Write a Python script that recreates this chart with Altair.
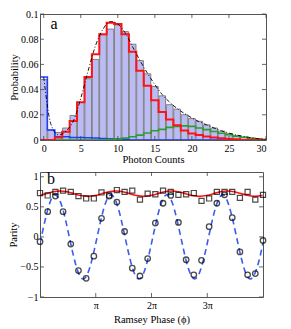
import altair as alt
import pandas as pd

# ---------------- panel a: photon count histogram ----------------
counts = list(range(31))
hist_prob = [0.048, 0.008, 0.006, 0.0095, 0.0195, 0.030, 0.0486, 0.064, 0.0835, 0.088,
             0.0913, 0.086, 0.076, 0.063, 0.0525, 0.0425, 0.035, 0.028, 0.0245, 0.020,
             0.017, 0.0148, 0.012, 0.0095, 0.007, 0.005, 0.0033, 0.0022, 0.0014, 0.0009, 0.0005]
fit_blue = [0.050, 0.008, 0.0025, 0.0025, 0.002, 0.002, 0.0018, 0.0015, 0.0012, 0.001,
            0.0008, 0.0005, 0, 0, 0, 0, 0, 0, 0, 0,
            0, 0, 0, 0, 0, 0, 0, 0, 0, 0, 0]
fit_green = [0, 0, 0, 0, 0, 0, 0, 0, 0, 0.0003,
             0.0008, 0.0015, 0.0026, 0.0039, 0.0055, 0.0073, 0.0084, 0.0100, 0.0108, 0.0112,
             0.0108, 0.0095, 0.0082, 0.0068, 0.0054, 0.0042, 0.0031, 0.0022, 0.0014, 0.0008, 0.0004]
fit_red = [0, 0, 0.002, 0.0066, 0.015, 0.030, 0.050, 0.068, 0.084, 0.093,
           0.092, 0.084, 0.070, 0.055, 0.043, 0.0315, 0.0223, 0.0163, 0.0118, 0.0075,
           0.0052, 0.0040, 0.0028, 0.0020, 0.0013, 0.0008, 0.0005, 0, 0, 0, 0]
fit_total = [0.050, 0.012, 0.004, 0.007, 0.015, 0.033, 0.055, 0.075, 0.088, 0.094,
             0.092, 0.085, 0.074, 0.063, 0.053, 0.044, 0.036, 0.030, 0.025, 0.021,
             0.0175, 0.0145, 0.012, 0.0095, 0.0073, 0.0055, 0.004, 0.0028, 0.0018, 0.001, 0.0005]
a_xticks = [0, 5, 10, 15, 20, 25, 30]
a_yticks = [0, 0.02, 0.04, 0.06, 0.08, 0.1]

# ---------------- panel b: parity vs Ramsey phase (units of pi) ----------------
phase_pi = [0, 0.138, 0.276, 0.414, 0.552, 0.690, 0.828, 0.966, 1.103, 1.241,
            1.379, 1.517, 1.655, 1.793, 1.931, 2.069, 2.207, 2.345, 2.483, 2.621,
            2.759, 2.897, 3.034, 3.172, 3.310, 3.448, 3.586, 3.724, 3.862, 4.0]
parity_circles = [-0.08, 0.42, 0.68, 0.42, -0.12, -0.56, -0.69, -0.32, 0.31, 0.68,
                  0.58, 0.09, -0.52, -0.65, -0.36, 0.23, 0.56, 0.69, 0.24, -0.38,
                  -0.63, -0.39, 0.17, 0.56, 0.70, 0.32, -0.25, -0.63, -0.61, -0.06]
parity_squares = [0.73, 0.69, 0.75, 0.77, 0.75, 0.68, 0.64, 0.64, 0.74, 0.69,
                  0.78, 0.75, 0.77, 0.62, 0.72, 0.71, 0.77, 0.75, 0.70, 0.71,
                  0.73, 0.60, 0.64, 0.75, 0.75, 0.75, 0.65, 0.75, 0.62, 0.70]
fit_dash_phase = [0, 0.025, 0.15, 0.275, 0.4, 0.525, 0.65, 0.775, 0.9, 1.025, 1.15,
                  1.275, 1.4, 1.525, 1.65, 1.775, 1.9, 2.025, 2.15, 2.275, 2.4,
                  2.525, 2.65, 2.775, 2.9, 3.025, 3.15, 3.275, 3.4, 3.525, 3.65,
                  3.775, 3.9, 4.0]
fit_dash_parity = [-0.10, 0, 0.49, 0.70, 0.49, 0, -0.49, -0.70, -0.49, 0, 0.49,
                   0.70, 0.49, 0, -0.49, -0.70, -0.49, 0, 0.49, 0.70, 0.49,
                   0, -0.49, -0.70, -0.49, 0, 0.49, 0.70, 0.49, 0, -0.49,
                   -0.70, -0.49, -0.10]
fit_solid_phase = [0, 0.11, 0.235, 0.36, 0.485, 0.61, 0.735, 0.86, 0.985, 1.11, 1.235,
                   1.36, 1.485, 1.61, 1.735, 1.86, 1.985, 2.11, 2.235, 2.36, 2.485,
                   2.61, 2.735, 2.86, 2.985, 3.11, 3.235, 3.36, 3.485, 3.61, 3.735,
                   3.86, 3.985, 4.0]
fit_solid_parity = [0.69, 0.72, 0.752, 0.765, 0.752, 0.72, 0.688, 0.675, 0.688, 0.72, 0.752,
                    0.765, 0.752, 0.72, 0.688, 0.675, 0.688, 0.72, 0.752, 0.765, 0.752,
                    0.72, 0.688, 0.675, 0.688, 0.72, 0.752, 0.765, 0.752, 0.72, 0.688,
                    0.675, 0.688, 0.69]
b_xticks = [1, 2, 3]
b_yticks = [-1, -0.5, 0, 0.5, 1]

SERIF = "Liberation Serif"
WA, HA = 226, 126
WB, HB = 223, 125
TICK = 4
tick_col = "#444444"

# shared axis definitions (identical on every layer so they merge cleanly)
ax_xa = alt.Axis(values=a_xticks, title="Photon Counts", ticks=False, domain=False, grid=False,
                 labelPadding=3, titlePadding=1, format="d", labelOverlap=False)
ax_ya = alt.Axis(values=a_yticks, title="Probability", ticks=False, domain=False, grid=False,
                 format="~g", labelPadding=2, titlePadding=1, labelOverlap=False)
ax_xb = alt.Axis(values=b_xticks, title="Ramsey Phase (\u03d5)", ticks=False, domain=False, grid=False,
                 labelExpr="datum.value == 1 ? '\u03c0' : datum.value + '\u03c0'",
                 labelPadding=3, titlePadding=4, labelOverlap=False)
ax_yb = alt.Axis(values=b_yticks, title="Parity", ticks=False, domain=False, grid=False,
                 format="~g", labelPadding=2, titlePadding=1, labelOverlap=False)

xsa = alt.Scale(domain=[-0.5, 30], nice=False, zero=False)
ysa = alt.Scale(domain=[0, 0.1], nice=False)
xs = alt.Scale(domain=[0, 4], nice=False, zero=False)
ys = alt.Scale(domain=[-1, 1.08], nice=False)


def XA(f="x"):
    return alt.X(f + ":Q", scale=xsa, axis=ax_xa)


def YA(f="p"):
    return alt.Y(f + ":Q", scale=ysa, axis=ax_ya)


def XB(f="phi"):
    return alt.X(f + ":Q", scale=xs, axis=ax_xb)


def YB(f):
    return alt.Y(f + ":Q", scale=ys, axis=ax_yb)


# ---------- panel a ----------
hist_df = pd.DataFrame({"k": counts, "p": hist_prob})
edges = [c - 0.5 for c in counts] + [counts[-1] + 0.5]
step_df = pd.DataFrame({
    "edge": edges * 3,
    "p": fit_blue + [fit_blue[-1]] + fit_green + [fit_green[-1]] + fit_red + [fit_red[-1]],
    "comp": ["blue"] * len(edges) + ["green"] * len(edges) + ["red"] * len(edges),
})
total_df = pd.DataFrame({"k": counts, "p": fit_total})

bars = alt.Chart(hist_df).transform_calculate(
    x="datum.k - 0.45", x2="datum.k + 0.45"
).mark_rect(fill="#bcbcf5", stroke="#808080", strokeWidth=1, clip=True).encode(
    x=XA(), x2="x2:Q", y=YA(), y2=alt.datum(0)
)

steps = []
for comp, col, sw in [("blue", "#1f3dff", 1.5), ("green", "#2f9d2f", 1.6), ("red", "#ff1414", 2.0)]:
    steps.append(
        alt.Chart(step_df).transform_filter(alt.datum.comp == comp).transform_calculate(x="datum.edge")
        .mark_line(interpolate="step-after", color=col, strokeWidth=sw, clip=True)
        .encode(x=XA(), y=YA())
    )

total = alt.Chart(total_df).transform_calculate(x="datum.k").mark_line(
    interpolate="monotone", color="black", strokeWidth=0.9, strokeDash=[4, 2, 1, 2], clip=True
).encode(x=XA(), y=YA())

xt_a = pd.DataFrame({"x": a_xticks})
yt_a = pd.DataFrame({"p": a_yticks})
a_ticks = [
    alt.Chart(xt_a).mark_rule(color=tick_col, strokeWidth=0.8).encode(x=XA(), y=alt.value(HA), y2=alt.value(HA - TICK)),
    alt.Chart(xt_a).mark_rule(color=tick_col, strokeWidth=0.8).encode(x=XA(), y=alt.value(0), y2=alt.value(TICK)),
    alt.Chart(yt_a).mark_rule(color=tick_col, strokeWidth=0.8).encode(y=YA(), x=alt.value(0), x2=alt.value(TICK)),
    alt.Chart(yt_a).mark_rule(color=tick_col, strokeWidth=0.8).encode(y=YA(), x=alt.value(WA), x2=alt.value(WA - TICK)),
]
label_a = alt.Chart(pd.DataFrame({"t": ["a"]})).mark_text(
    font=SERIF, fontSize=16, align="center", baseline="middle", color="black"
).encode(x=alt.value(14), y=alt.value(10), text="t:N")

panel_a = alt.layer(bars, *steps, total, *a_ticks, label_a).properties(width=WA, height=HA)

# ---------- panel b ----------
pts_df = pd.DataFrame({"phi": phase_pi, "c": parity_circles, "s": parity_squares})
dash_df = pd.DataFrame({"phi": fit_dash_phase, "v": fit_dash_parity})
solid_df = pd.DataFrame({"phi": fit_solid_phase, "v": fit_solid_parity})

dash = alt.Chart(dash_df).mark_line(interpolate="natural", color="#3a5cf0", strokeWidth=1.6,
                                    strokeDash=[6, 4], clip=True).encode(x=XB(), y=YB("v"))
solid = alt.Chart(solid_df).mark_line(interpolate="natural", color="#ff1414", strokeWidth=1.6,
                                      clip=True).encode(x=XB(), y=YB("v"))
circles = alt.Chart(pts_df).mark_point(shape="circle", filled=False, color="black", size=30,
                                       strokeWidth=1.3).encode(x=XB(), y=YB("c"))
squares = alt.Chart(pts_df).mark_point(shape="square", filled=False, color="black", size=26,
                                       strokeWidth=1.2).encode(x=XB(), y=YB("s"))

xt_b = pd.DataFrame({"phi": b_xticks})
yt_b = pd.DataFrame({"v": b_yticks})
b_ticks = [
    alt.Chart(xt_b).mark_rule(color=tick_col, strokeWidth=0.8).encode(x=XB(), y=alt.value(HB), y2=alt.value(HB - TICK)),
    alt.Chart(xt_b).mark_rule(color=tick_col, strokeWidth=0.8).encode(x=XB(), y=alt.value(0), y2=alt.value(TICK)),
    alt.Chart(yt_b).mark_rule(color=tick_col, strokeWidth=0.8).encode(y=YB("v"), x=alt.value(0), x2=alt.value(TICK)),
    alt.Chart(yt_b).mark_rule(color=tick_col, strokeWidth=0.8).encode(y=YB("v"), x=alt.value(WB), x2=alt.value(WB - TICK)),
]
label_b = alt.Chart(pd.DataFrame({"t": ["b"]})).mark_text(
    font=SERIF, fontSize=16, align="center", baseline="middle", color="black"
).encode(x=alt.value(11), y=alt.value(7), text="t:N")

panel_b = alt.layer(dash, circles, solid, squares, *b_ticks, label_b).properties(width=WB, height=HB)

chart = alt.vconcat(panel_a, panel_b, spacing=5).properties(
    padding={"left": 0, "top": 0, "right": 2, "bottom": 0}
).configure(
    background="white",
    view=alt.ViewConfig(stroke="#555555", strokeWidth=1),
    axis=alt.AxisConfig(labelFont=SERIF, titleFont=SERIF, labelFontSize=10, titleFontSize=10.5,
                        titleFontWeight="normal", labelColor="black", titleColor="black",
                        labelOverlap=False),
)

chart.save("out.html", embed_options={"renderer": "svg", "actions": False})
